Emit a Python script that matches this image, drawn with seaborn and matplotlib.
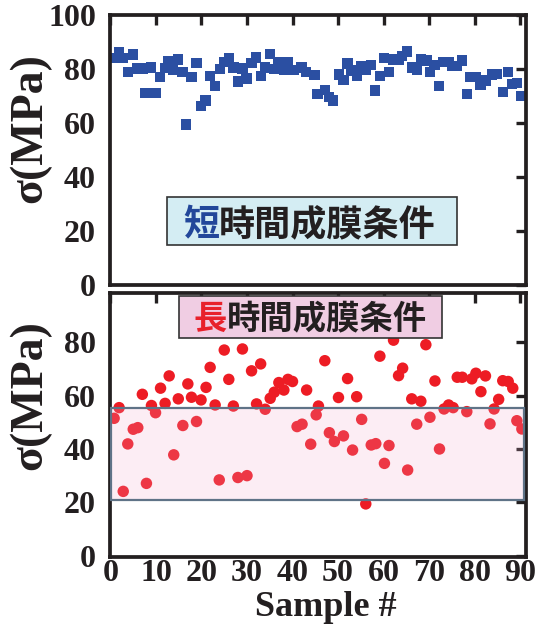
import pandas as pd
import matplotlib.pyplot as plt
import seaborn as sns
from matplotlib.patches import Rectangle

sns.set_theme(style="white")
plt.rcParams['font.family'] = ['Liberation Serif', 'DejaVu Serif']
plt.rcParams['font.weight'] = 'bold'

# ---- datos ----
top_x = [0.6, 1.9, 2.8, 3.8, 4.9, 5.8, 7.2, 7.7, 8.9, 10.0, 10.9, 12.0, 12.7, 13.8, 14.8,
         15.8, 16.6, 17.8, 18.9, 19.9, 20.9, 21.9, 23.0, 24.1, 25.0, 26.0, 27.0, 28.0, 29.0,
         29.9, 31.0, 32.0, 33.0, 34.0, 35.1, 36.0, 36.9, 38.2, 38.9, 40.2, 42.0, 43.0, 44.8,
         45.5, 47.1, 48.0, 48.9, 50.2, 51.2, 52.1, 52.9, 54.1, 55.1, 56.1, 57.3, 58.1, 59.2,
         60.1, 61.2, 62.2, 63.3, 64.1, 65.1, 66.2, 67.3, 68.2, 69.5, 70.2, 71.2, 72.2, 73.2,
         74.3, 75.0, 76.1, 77.2, 78.3, 79.1, 80.3, 81.3, 82.4, 83.8, 84.9, 86.3, 87.3, 88.3,
         89.3, 90.2]
top_y = [84.0, 86.2, 84.0, 78.8, 85.4, 80.2, 80.2, 71.0, 80.5, 71.0, 76.9, 80.4, 83.0, 79.6, 83.5,
         78.8, 59.4, 76.9, 82.1, 66.4, 68.3, 77.5, 73.6, 80.0, 82.7, 84.0, 80.6, 75.4, 80.2,
         76.5, 82.1, 84.3, 77.3, 80.6, 85.6, 80.0, 82.7, 79.6, 82.7, 79.6, 80.6, 79.0, 77.8,
         70.7, 72.3, 69.5, 68.3, 77.9, 76.0, 82.0, 79.4, 77.5, 81.2, 79.6, 81.6, 72.0, 77.5,
         84.0, 78.8, 83.5, 83.3, 84.7, 86.5, 80.6, 79.6, 83.5, 83.1, 78.8, 81.6, 73.8, 82.7,
         82.7, 81.2, 81.0, 83.1, 70.7, 76.9, 76.9, 74.1, 75.7, 77.9, 78.1, 71.4, 78.8, 74.4,
         74.8, 70.1]

bottom_x = [0.8, 1.9, 2.8, 3.8, 5.0, 6.0, 7.0, 7.9, 9.0, 9.9, 11.0, 12.0, 12.9, 13.9, 14.9,
            15.9, 17.0, 17.8, 18.9, 19.9, 21.0, 21.9, 23.0, 23.9, 25.0, 26.0, 27.0, 28.0, 29.0,
            30.0, 31.0, 32.1, 33.0, 34.0, 35.1, 36.0, 37.0, 38.1, 39.0, 40.0, 41.0, 42.1, 43.1,
            44.0, 45.2, 45.7, 47.1, 48.1, 49.2, 50.1, 51.2, 52.1, 53.2, 54.1, 55.2, 56.1, 57.3,
            58.3, 59.2, 60.2, 61.2, 62.2, 63.3, 64.2, 65.3, 66.2, 67.3, 68.2, 69.3, 70.2, 71.3,
            72.3, 73.3, 74.3, 75.3, 76.2, 77.3, 78.3, 79.4, 80.3, 81.4, 82.4, 83.4, 84.3, 85.3,
            86.2, 87.4, 88.4, 89.3, 90.4]
bottom_y = [51.5, 55.5, 24.1, 41.9, 47.4, 48.0, 60.5, 27.1, 56.3, 53.6, 62.8, 57.1, 67.4, 37.8, 58.8,
            48.8, 64.4, 59.4, 50.3, 58.4, 63.1, 70.6, 56.5, 28.4, 77.1, 66.1, 56.1, 29.3, 77.5,
            30.0, 69.3, 56.9, 71.9, 54.9, 59.0, 61.3, 64.9, 62.1, 66.1, 65.3, 48.4, 49.3, 62.1,
            41.8, 52.8, 56.1, 73.1, 46.1, 42.8, 59.3, 44.9, 66.4, 39.6, 59.6, 51.1, 19.4, 41.5,
            42.0, 74.8, 34.6, 41.3, 80.8, 67.5, 70.3, 32.1, 58.8, 49.3, 57.9, 79.1, 51.9, 65.5,
            40.0, 55.0, 56.5, 55.5, 66.9, 66.9, 54.0, 66.3, 68.4, 61.5, 67.4, 49.4, 55.0, 58.6,
            65.6, 65.3, 62.8, 50.6, 47.5]

band_low, band_high = 21.0, 55.3
x_ticks = list(range(0, 91, 10))

df_top = pd.DataFrame({'sample': top_x, 'sigma': top_y})
df_bot = pd.DataFrame({'sample': bottom_x, 'sigma': bottom_y})

ink = '#231f20'
cjk = ['Noto Sans CJK JP', 'DejaVu Sans']

fig = plt.figure(figsize=(5.44, 6.24), dpi=100)
ax1 = fig.add_axes([0.2031, 0.5433, 0.7629, 0.4327])
ax2 = fig.add_axes([0.2031, 0.1074, 0.7629, 0.4231])

sns.scatterplot(data=df_top, x='sample', y='sigma', marker='s', s=55, color='#2b4fa2',
                edgecolor='none', linewidth=0, ax=ax1, zorder=2)
sns.scatterplot(data=df_bot, x='sample', y='sigma', marker='o', s=68, color='#ed1c24',
                edgecolor='none', linewidth=0, ax=ax2, zorder=2)

# banda rosada encima de los puntos
ax2.add_patch(Rectangle((0.05, band_low), 90.9, band_high - band_low,
                        facecolor=(240/255, 168/255, 204/255, 0.2),
                        edgecolor='#5f7387', linewidth=1.6, zorder=3))

ax1.set_ylim(0, 100)
ax1.set_yticks(range(0, 101, 20))
ax2.set_ylim(-0.5, 98.5)
ax2.set_yticks(range(0, 81, 20))

for ax in (ax1, ax2):
    ax.set_xlim(0, 91.2)
    ax.set_xticks(x_ticks)
    ax.set_xlabel('')
    ax.set_ylabel('')
    ax.tick_params(direction='in', length=7, width=2.4, color=ink, top=True, right=True,
                   labelsize=23, labelcolor=ink)
    ax.tick_params(axis='y', pad=10.5)
    ax.tick_params(axis='x', pad=1.5)
    for sp in ax.spines.values():
        sp.set_linewidth(2.7)
        sp.set_color(ink)
        sp.set_visible(True)

ax1.tick_params(labelbottom=False)


def etiqueta(ax, x, y, size, first, first_color, rest):
    # primer caracter en color, el resto desplazado un em (ancho fijo CJK)
    ax.text(x, y, first, transform=ax.transAxes, family=cjk, fontsize=size,
            fontweight='bold', color=first_color, ha='left', va='baseline', zorder=6)
    ax.annotate(rest, xy=(x, y), xycoords='axes fraction', xytext=(size, 0),
                textcoords='offset points', family=cjk, fontsize=size,
                fontweight='bold', color=ink, ha='left', va='baseline', zorder=6)


ax1.add_patch(Rectangle((0.137, 0.148), 0.698, 0.176, transform=ax1.transAxes,
                        facecolor='#d4edf3', edgecolor='#333333', linewidth=1.2, zorder=5))
etiqueta(ax1, 0.175, 0.185, 26, '短', '#22479a', '時間成膜条件')

ax2.add_patch(Rectangle((0.164, 0.830), 0.634, 0.159, transform=ax2.transAxes,
                        facecolor='#f0cde3', edgecolor='#333333', linewidth=1.2, zorder=5))
etiqueta(ax2, 0.201, 0.862, 24, '長', '#e8212b', '時間成膜条件')

fig.text(0.055, 0.795, 'σ(MPa)', rotation=90, ha='center', va='center',
         fontsize=33, fontweight='bold', color=ink)
fig.text(0.055, 0.367, 'σ(MPa)', rotation=90, ha='center', va='center',
         fontsize=33, fontweight='bold', color=ink)
fig.text(0.599, 0.0128, 'Sample #', ha='center', va='baseline',
         fontsize=26, fontweight='bold', color=ink)

fig.savefig('out.png', dpi=100)
plt.close(fig)
